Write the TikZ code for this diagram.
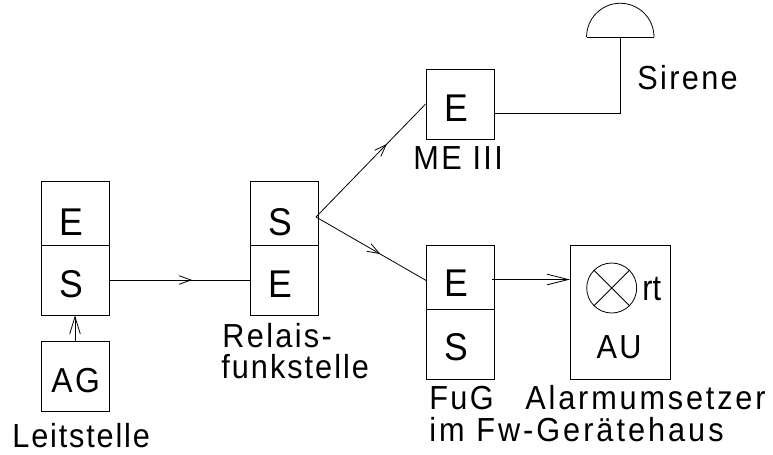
\documentclass[tikz,border=0pt]{standalone}
\usepackage{fontspec}
\setmainfont{Liberation Sans}[LetterSpace=7,FakeStretch=0.92]
\usetikzlibrary{arrows.meta}
\usetikzlibrary{decorations.markings}
\tikzset{
  cell/.style={draw, sharp corners, inner sep=0pt, minimum width=51pt, minimum height=52.5pt,
    font=\fontsize{29}{29}\selectfont, text height=25.5pt, text depth=0pt,
    execute at begin node={\hspace*{-6pt}}},
  topcell/.style={cell, minimum height=48pt, text height=33pt},
  lbl/.style={anchor=base west, inner sep=0pt, font=\fontsize{25}{25}\selectfont},
  wire/.style={line width=0.6pt},
  smallbarb/.style={decoration={markings, mark=at position #1 with {\arrow{Straight Barb[length=9pt,width=6.5pt]}}}, postaction={decorate}}
}
\begin{document}
\begin{tikzpicture}[x=0.75pt, y=-0.75pt, line width=0.6pt]
\useasboundingbox (0,0) rectangle (773,454);

% Leitstelle
\node[topcell] (leitE) at (75,213) {E};
\node[cell] (leitS) at (75,280) {S};
\node[cell, font=\fontsize{26}{26}\selectfont, text height=23pt, execute at begin node={\hspace*{7pt}}] (leitAG) at (75,376.7) {AG};
\node[lbl, font=\fontsize{25}{25}\selectfont\addfontfeature{LetterSpace=5.5}] (leitLbl) at (12,447) {Leitstelle};

% Relaisfunkstelle
\node[topcell] (relaisS) at (284,213) {S};
\node[cell] (relaisE) at (284,280) {E};
\node[lbl] (relaisLbl) at (222,347) {Relais-};
\node[lbl, font=\fontsize{25}{25}\selectfont\addfontfeature{LetterSpace=6}] (funkLbl) at (221,378) {funkstelle};

% ME III
\node[cell] (meE) at (460,104) {E};
\node[lbl] (meLbl) at (413,169) {ME III};

% FuG
\node[topcell, text height=29pt] (fugE) at (460,277) {E};
\node[cell, text height=24pt] (fugS) at (460,344) {S};
\node[lbl] (fugLbl) at (429,409) {FuG};
\node[lbl, font=\fontsize{25}{25}\selectfont\addfontfeature{LetterSpace=9}] (fwLbl) at (429,441) {im Fw-Gerätehaus};

% Alarmumsetzer
\node[cell, minimum width=75pt, minimum height=100.5pt, text height=0pt, execute at begin node={}] (au) at (620,312.7) {};
\node[circle, draw, inner sep=0pt, minimum size=37.5pt] (lamp) at (611.7,288) {};
\draw (lamp.45) -- (lamp.225);
\draw (lamp.135) -- (lamp.315);
\node[lbl, font=\fontsize{27}{27}\selectfont\addfontfeature{LetterSpace=0,FakeStretch=0.85}] (rtLbl) at (642,300) {rt};
\node[lbl, anchor=base] (auLbl) at (619,358) {AU};
\node[lbl, font=\fontsize{25}{25}\selectfont\addfontfeature{LetterSpace=8.5}] (alarmLbl) at (525,409) {Alarmumsetzer};

% Sirene
\coordinate (sirenL) at (586.7,37);
\coordinate (sirenR) at (654,37);
\coordinate (sirenFoot) at (620.3,37);
\coordinate (sirenBend) at (620.3,113);
\draw (sirenR) arc (0:180:25.3pt);
\draw (sirenL) -- (sirenR);
\node[lbl] (sirenLbl) at (637,89) {Sirene};

% Connectors
\coordinate (fork) at (316,217);
\coordinate (auIn) at (570,279.5);
\coordinate (fugOut) at (492,279.5);
\coordinate (fugIn) at (427,281);
\draw[wire, smallbarb=0.59] (leitS.east) -- (relaisE.west);
\draw[wire, -{Straight Barb[length=13pt,width=8pt]}] (leitAG.north) -- (leitS.south);
\draw[wire, smallbarb=0.65] (fork) -- (meE.west);
\draw[wire, smallbarb=0.58] (fork) -- (fugIn);
\draw[wire, -{Straight Barb[length=16pt,width=8pt]}] (fugOut) -- (auIn);
\draw[wire] (meE.east |- sirenBend) -- (sirenBend) -- (sirenFoot);
\end{tikzpicture}
\end{document}
